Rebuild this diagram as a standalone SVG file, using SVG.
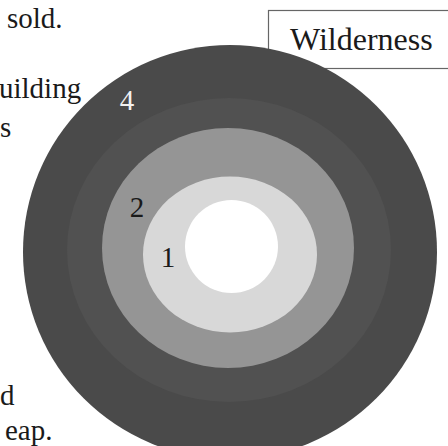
<svg xmlns="http://www.w3.org/2000/svg" width="448" height="446" viewBox="0 0 448 446">
<style>
text{font-family:"Liberation Serif","Times New Roman",serif;font-size:29px;fill:#1a1a1a}
.lbl{text-anchor:middle}
</style>
<rect width="448" height="446" fill="#ffffff"/>
<g id="body-text">
<text x="7" y="28">sold.</text>
<text x="-1" y="98">uilding</text>
<text x="0" y="137">s</text>
<text x="0" y="405">d</text>
<text x="5" y="440">eap.</text>
</g>
<g id="wilderness">
<rect x="268.5" y="10.5" width="200" height="58" fill="#ffffff" stroke="#666666" stroke-width="1.2"/>
<text x="290" y="50" style="font-size:32px">Wilderness</text>
</g>
<g id="rings">
<g id="ring4"><circle cx="230" cy="252" r="207" fill="#4a4a4a"/></g>
<g id="ring3"><ellipse cx="229" cy="250" rx="162" ry="152" fill="#515151"/></g>
<g id="ring2"><ellipse cx="228" cy="248" rx="126" ry="120" fill="#959595"/></g>
<g id="ring1"><ellipse cx="230" cy="254.5" rx="87" ry="78" fill="#d8d8d8"/></g>
<g id="core"><circle cx="231.5" cy="246.5" r="46.5" fill="#ffffff"/></g>
</g>
<g id="labels">
<text class="lbl" x="127" y="110" style="fill:#f2f2f2">4</text>
<text class="lbl" x="137" y="217">2</text>
<text class="lbl" x="168" y="267">1</text>
</g>
</svg>
